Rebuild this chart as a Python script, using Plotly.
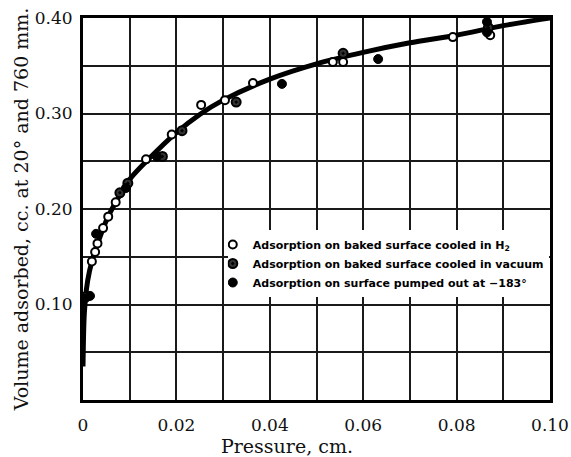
import plotly.graph_objects as go

# Smooth adsorption isotherm (pressure in cm, volume in cc)
curve_p = [0.0, 0.0003, 0.001, 0.002, 0.003, 0.005, 0.007, 0.010, 0.014, 0.020,
           0.025, 0.030, 0.040, 0.050, 0.060, 0.070, 0.080, 0.090, 0.100]
curve_v = [0.035, 0.092, 0.125, 0.147, 0.162, 0.188, 0.207, 0.231, 0.252, 0.280,
           0.299, 0.314, 0.336, 0.352, 0.364, 0.374, 0.382, 0.392, 0.400]

# Baked surface cooled in H2
h2_p = [0.0019, 0.0026, 0.0031, 0.0043, 0.0054, 0.0070, 0.0135, 0.0190, 0.0253,
        0.0304, 0.0364, 0.0535, 0.0557, 0.0792, 0.0872]
h2_v = [0.145, 0.155, 0.164, 0.180, 0.192, 0.207, 0.252, 0.278, 0.309,
        0.314, 0.332, 0.354, 0.354, 0.380, 0.382]

# Baked surface cooled in vacuum
vac_p = [0.0006, 0.0079, 0.0096, 0.0170, 0.0212, 0.0328, 0.0557, 0.0868]
vac_v = [0.108, 0.217, 0.227, 0.255, 0.282, 0.312, 0.363, 0.390]

# Surface pumped out at -183 deg
pump_p = [0.0003, 0.0015, 0.0028, 0.0092, 0.0158, 0.0426, 0.0632, 0.0865, 0.0865]
pump_v = [0.106, 0.109, 0.174, 0.222, 0.255, 0.331, 0.357, 0.396, 0.385]

x_ticks = [0.0, 0.02, 0.04, 0.06, 0.08, 0.10]
x_labels = ["0", "0.02", "0.04", "0.06", "0.08", "0.10"]
y_ticks = [0.10, 0.20, 0.30, 0.40]
y_labels = ["0.10", "0.20", "0.30", "0.40"]

serif = "DejaVu Serif"
sans = "DejaVu Sans"

fig = go.Figure()

fig.add_trace(go.Scatter(
    x=curve_p, y=curve_v, mode="lines",
    line=dict(color="black", width=5, shape="spline", smoothing=0.8),
    showlegend=False, hoverinfo="skip"))

fig.add_trace(go.Scatter(
    x=h2_p, y=h2_v, mode="markers",
    name="<b>Adsorption on baked surface cooled in H<sub>2</sub></b>",
    marker=dict(symbol="circle", size=8, color="white", line=dict(color="black", width=2))))

fig.add_trace(go.Scatter(
    x=vac_p, y=vac_v, mode="markers",
    name="<b>Adsorption on baked surface cooled in vacuum</b>",
    marker=dict(symbol="circle-dot", size=9, color="#333", line=dict(color="black", width=2))))

fig.add_trace(go.Scatter(
    x=pump_p, y=pump_v, mode="markers",
    name="<b>Adsorption on surface pumped out at \u2212183\u00b0</b>",
    marker=dict(symbol="circle", size=9, color="black", line=dict(color="black", width=1))))

axis_common = dict(
    showline=True, linecolor="black", linewidth=3, mirror=True,
    showgrid=True, gridcolor="#1a1a1a", gridwidth=1.5,
    zeroline=False, ticks="", automargin=False,
    tickfont=dict(family=serif, size=17, color="#111"),
)

fig.update_xaxes(
    **axis_common, range=[0, 0.10], tickmode="array", tickvals=x_ticks, ticktext=x_labels,
    minor=dict(dtick=0.01, showgrid=True, gridcolor="#1a1a1a", gridwidth=1.5),
    ticklabelstandoff=8)

fig.update_yaxes(
    **axis_common, range=[0, 0.40], tickmode="array", tickvals=y_ticks, ticktext=y_labels,
    minor=dict(dtick=0.05, showgrid=True, gridcolor="#1a1a1a", gridwidth=1.5),
    ticklabelstandoff=4,
    title=dict(text="Volume adsorbed, cc. at 20\u00b0 and 760 mm.",
               font=dict(family=serif, size=19, color="#111"), standoff=2))

fig.add_annotation(
    text="Pressure, cm.", xref="paper", yref="paper", x=0.437, y=-0.12,
    xanchor="center", yanchor="middle", showarrow=False,
    font=dict(family=serif, size=19, color="#111"))

fig.update_layout(
    width=571, height=457,
    margin=dict(l=83, r=21, t=18, b=57),
    paper_bgcolor="white", plot_bgcolor="white",
    legend=dict(x=0.31, y=0.445, xanchor="left", yanchor="top",
                bgcolor="white", borderwidth=0, indentation=-15,
                font=dict(family=sans, size=11, color="black"),
                itemwidth=30, tracegroupgap=2),
)

fig.write_html("out.html")
